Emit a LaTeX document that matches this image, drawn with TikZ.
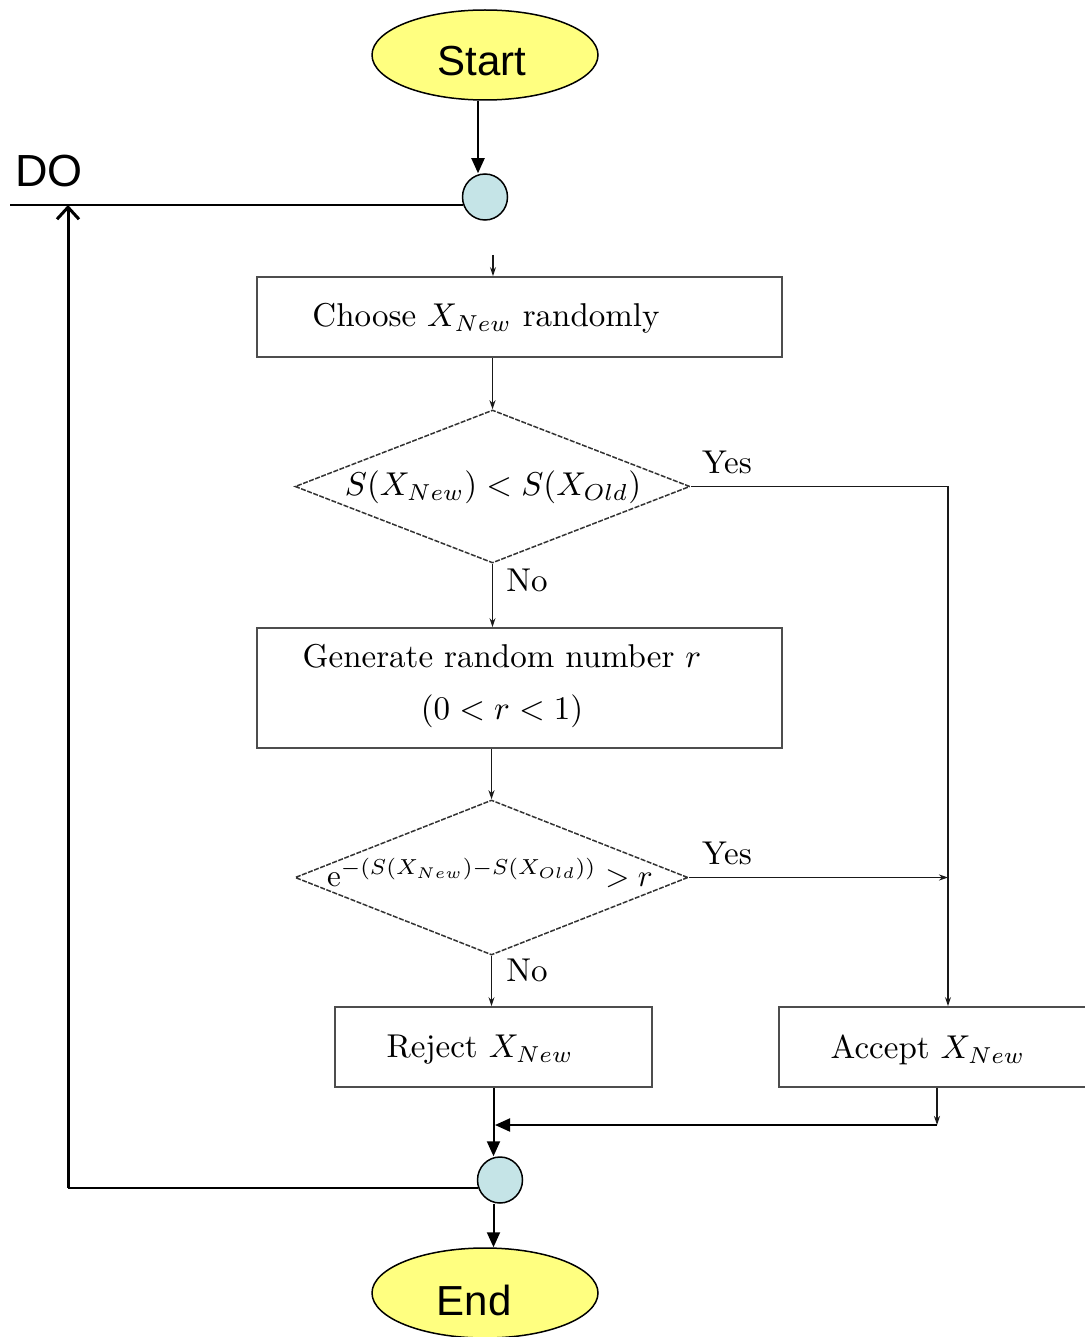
\documentclass[tikz,border=0pt]{standalone}
\usepackage{fontspec}
\newfontfamily\arialf{Liberation Sans}
\usetikzlibrary{shapes.geometric,arrows.meta}
\definecolor{termfill}{HTML}{FFFF80}
\definecolor{joinfill}{HTML}{C5E4E7}
\definecolor{boxline}{HTML}{4D4D4D}
\tikzset{
 terminal/.style={ellipse, draw=black, line width=1.5pt, fill=termfill, minimum width=226pt, minimum height=90pt, inner sep=0pt},
 termtext/.style={font=\arialf\fontsize{42}{50}\selectfont, inner sep=0pt},
 joint/.style={ellipse, draw=black, line width=1.5pt, fill=joinfill, minimum width=45pt, minimum height=46pt, inner sep=0pt},
 procbox/.style={rectangle, draw=boxline, line width=1.8pt, inner sep=0pt},
 decision/.style={diamond, draw=black!80, line width=1.5pt, dash pattern=on 5pt off 1.5pt, inner sep=0pt},
 lbl/.style={font=\fontsize{10}{15.5}\selectfont, inner sep=0pt, scale=3.3},
 thinarrow/.style={draw=black!90, line width=1.3pt, -{Stealth[length=9pt,width=6pt]}},
 pparrow/.style={draw=black, line width=2pt, -{Triangle[length=15pt,width=13pt]}},
 loopline/.style={draw=black, line width=3pt, -{Straight Barb[length=12pt,width=22pt]}},
}
\begin{document}
\begin{tikzpicture}[x=1pt,y=-1pt]
\useasboundingbox (0,0) rectangle (1084,1337);
% PowerPoint parts
\node[terminal] (start) at (485,55) {};
\node[termtext] (starttxt) at (482,61) {Start};
\node[joint] (c1) at (485,197) {};
\node[font=\arialf\fontsize{45}{52}\selectfont, inner sep=0pt] (do) at (49,171) {DO};
\coordinate (doL) at (10,205);
\coordinate (in1) at (493,255);
\coordinate (loopTop) at (68,205);
% flowchart
\node[procbox, minimum width=525pt, minimum height=80pt] (b1) at (519.5,317) {};
\node[lbl] (t1) at (486,318) {Choose $X_{New}$ randomly};
\node[decision, minimum width=395pt, minimum height=153pt] (d1) at (492.5,486.5) {};
\node[lbl] (t2) at (493,487) {$S(X_{New}) < S(X_{Old})$};
\node[procbox, minimum width=525pt, minimum height=120pt] (b2) at (519.5,688) {};
\node[lbl, align=center] (t3) at (502,686) {Generate random number $r$\\$(0<r<1)$};
\node[decision, minimum width=393pt, minimum height=155pt] (d2) at (491.5,877.5) {};
\node[lbl, scale=0.94] (t4) at (490,873) {$\mathrm{e}^{-(S(X_{New})-S(X_{Old}))} > r$};
\node[procbox, minimum width=317pt, minimum height=80pt] (rej) at (493.5,1047) {};
\node[lbl] (t5) at (480,1050) {Reject $X_{New}$};
\node[procbox, minimum width=338pt, minimum height=80pt] (acc) at (948,1047) {};
\node[lbl] (t6) at (928,1050) {Accept $X_{New}$};
\node[joint] (c2) at (500,1180) {};
\node[terminal] (end) at (485,1293) {};
\node[termtext] (endtxt) at (474,1300) {End};
\node[lbl] (y1) at (727,462) {Yes};
\node[lbl] (n1) at (527,580) {No};
\node[lbl] (y2) at (727,853) {Yes};
\node[lbl] (n2) at (527,970) {No};
\coordinate (acc1) at ([xshift=-11pt]acc.south);
\coordinate (accB) at (937,1125);
\coordinate (brk) at (598,1125);
\coordinate (mrg) at (495,1125);
% connectors
\draw[pparrow] ([xshift=-7pt]start.south) -- ([xshift=-7pt]start.south |- c1.north);
\draw[line width=2pt] (c1.200) -- (c1.200 -| doL);
\draw[thinarrow] (in1) -- (in1 |- b1.north);
\draw[thinarrow] (b1.south -| d1.north) -- (d1.north);
\draw[thinarrow] (d1.east) -| (acc.north);
\draw[thinarrow] (d1.south) -- (d1.south |- b2.north);
\draw[thinarrow] (b2.south -| d2.north) -- (d2.north);
\draw[thinarrow] (d2.east) -- (d2.east -| acc.north);
\draw[thinarrow] (d2.south) -- (d2.south |- rej.north);
\draw[pparrow] (rej.south) -- (rej.south |- c2.north);
\draw[thinarrow] (acc1) -- (accB);
\draw[line width=1.8pt] (accB) -- (brk);
\draw[pparrow] (brk) -- (mrg);
\draw[pparrow] (c2.south -| rej.south) -- (rej.south |- end.north);
\draw[line width=2pt] (c2.200) -- (c2.200 -| loopTop);
\draw[loopline] (c2.200 -| loopTop) -- (loopTop);
\end{tikzpicture}
\end{document}
